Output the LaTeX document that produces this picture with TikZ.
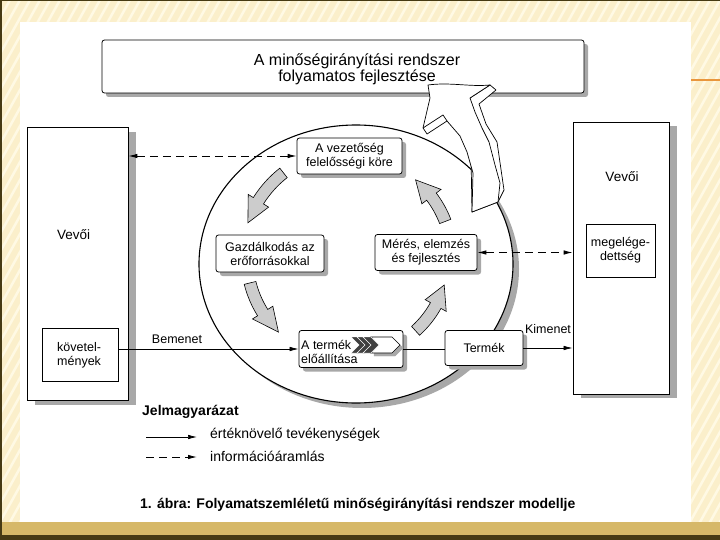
\documentclass[tikz,border=0pt]{standalone}
\usepackage{fontspec}
\setmainfont{Liberation Sans}
\usetikzlibrary{arrows.meta,shadows}
\definecolor{slidebg}{RGB}{251,239,203}
\definecolor{stripe}{RGB}{255,249,228}
\definecolor{goldband}{RGB}{214,184,104}
\definecolor{darkedge}{RGB}{70,58,20}
\definecolor{shd}{RGB}{168,168,168}
\definecolor{orangeline}{RGB}{233,150,60}
\newcommand{\cblk}[5]{%
  \filldraw[carrow] ([shift={(#1)}]{#3}:{#2+6}) arc[start angle=#3, end angle=#4, radius=#2+6]
    -- ([shift={(#1)}]{#4}:{#2+12}) -- ([shift={(#1)}]{#5}:{#2}) -- ([shift={(#1)}]{#4}:{#2-12})
    -- ([shift={(#1)}]{#4}:{#2-6}) arc[start angle=#4, end angle=#3, radius=#2-6] -- cycle;}
\begin{document}
\begin{tikzpicture}[x=1pt,y=-1pt,
  box/.style={draw, line width=0.8pt, fill=white, rounded corners=2.5pt, inner sep=0pt, align=center, font=\fontsize{12.5}{14}\selectfont},
  sbox/.style={box, drop shadow={shadow xshift=4pt, shadow yshift=-4pt, fill=shd, opacity=1}},
  plainbox/.style={draw, line width=0.8pt, fill=white, inner sep=0pt, align=center, font=\fontsize{12.5}{14}\selectfont},
  txt/.style={inner sep=0pt, font=\fontsize{12.5}{14}\selectfont},
  flow/.style={line width=0.7pt, -{Latex[length=9pt,width=4.5pt]}},
  info/.style={line width=0.9pt, dash pattern=on 8pt off 5pt, {Latex[length=9pt,width=4.5pt]}-{Latex[length=9pt,width=4.5pt]}},
  carrow/.style={fill=black!20, draw=black, line width=0.6pt},
  bigarrow/.style={fill=white, draw=black, line width=0.7pt, line join=round},
]
\useasboundingbox (0,0) rectangle (720,540);
% slide background
\fill[slidebg] (0,0) rectangle (720,540);
\foreach \i in {-320,-310,...,720} \draw[stripe, line width=2.5pt] (\i,540) -- (\i+300,0);
\fill[goldband] (0,522) rectangle (720,540);
\fill[darkedge] (0,535) rectangle (720,540);
\fill[darkedge] (0,0) rectangle (720,1.5);
\fill[darkedge] (0,0) rectangle (1.5,540);
\draw[orangeline, line width=1.2pt] (688,80) -- (720,80);
% white panel
\fill[white] (20,22) rectangle (691,522);

% circle
\fill[shd] (362,269) ellipse [x radius=157, y radius=139];
\draw[line width=1.1pt, fill=white] (356,264) ellipse [x radius=157, y radius=139];
\coordinate (c) at (350,258);

% top box
\node[sbox, minimum width=482pt, minimum height=53pt] (top) at (343,66.5) {};
\node[txt, font=\fontsize{16}{16}\selectfont, align=center] (toptxt) at (357,69) {A minőségirányítási rendszer\\folyamatos fejlesztése};

% big 3D arrow
\filldraw[bigarrow] (490,85) -- (496,90) -- (479,104) -- (486,124) -- (497,142) -- (504,190) -- (498,202) -- (472,212) -- (470,98) -- cycle;
\filldraw[bigarrow] (472,212) -- (473,173) -- (467,152) -- (460,136) -- (447,121) -- (427,134) -- (423,128) -- (430,98) -- (428,85)
   .. controls (450,82) and (470,87) .. (490,85) -- (470,98) -- (475,112) -- (482,128) -- (489,142) -- (495,165) -- (500,183) -- (498,202) -- cycle;
\draw[line width=0.7pt] (423,128) -- (443,115) -- (447,121);

% customer boxes
\node[plainbox, minimum width=101pt, minimum height=273pt, drop shadow={shadow xshift=8pt, shadow yshift=-5pt, fill=shd, opacity=1}] (lv) at (77.5,263.5) {};
\node[txt, anchor=west, font=\fontsize{13.5}{15}\selectfont] (lvt) at (57,235) {Vevői};
\node[plainbox, minimum width=76pt, minimum height=53pt] (kov) at (80,354.5) {};
\node[txt, anchor=west, align=left] (kovt) at (57,355) {követel-\\mények};

\node[plainbox, minimum width=96pt, minimum height=272pt, drop shadow={shadow xshift=8pt, shadow yshift=-4pt, fill=shd, opacity=1}] (rv) at (621,258) {};
\node[txt, font=\fontsize{13.5}{15}\selectfont] (rvt) at (622,177) {Vevői};
\node[plainbox, minimum width=69pt, minimum height=53pt] (meg) at (620.5,250.5) {megelége-\\dettség};

% process boxes
\node[sbox, minimum width=105pt, minimum height=36pt] (vez) at (349.5,156) {A vezetőség\\felelősségi köre};
\node[sbox, minimum width=108pt, minimum height=37pt] (gaz) at (270,253.5) {Gazdálkodás az\\erőforrásokkal};
\node[sbox, minimum width=102pt, minimum height=36pt] (mer) at (426,252.5) {Mérés, elemzés\\és fejlesztés};
\node[sbox, minimum width=104pt, minimum height=37pt] (term) at (351,349) {};
\node[txt, anchor=west, align=left] (termt) at (301,352) {A termék\\előállítása};
\node[sbox, minimum width=78pt, minimum height=35pt] (termek) at (484,348) {Termék};

% chevron icon
\filldraw[fill=shd, draw=shd] (374,340) -- (395,340) -- (403,348) -- (395,356) -- (374,356) -- cycle;
\filldraw[fill=white, draw=black, line width=0.6pt] (371,337) -- (392,337) -- (400,345) -- (392,353) -- (371,353) -- (378,345) -- cycle;
\foreach \k in {0,1,2}
  \filldraw[fill=black!75, draw=white, line width=0.4pt] (351+6*\k,337) -- (359+6*\k,337) -- (367+6*\k,345) -- (359+6*\k,353) -- (351+6*\k,353) -- (359+6*\k,345) -- cycle;

% cycle arrows
\cblk{c}{108}{232}{212}{199}
\cblk{c}{103}{166}{148}{134}
\cblk{c}{98}{48}{29}{16}
\cblk{c}{102}{339}{323}{310}

% connectors
\draw[info] (lv.east |- vez.west) -- (vez.west);
\draw[info] (mer.east) -- (mer.east -| rv.west);
\draw[flow] (term.west -| kov.east) -- (term.west);
\draw[line width=0.7pt] (term.east) -- (term.east -| termek.west);
\draw[flow] (termek.east) -- (termek.east -| rv.west);
\node[txt] (bem) at (177,339) {Bemenet};
\node[txt] (kim) at (548,329) {Kimenet};

% legend
\node[txt, anchor=west, font=\bfseries\fontsize{14}{15}\selectfont] (jel) at (142,412) {Jelmagyarázat};
\coordinate (l1a) at (146,437); \coordinate (l1b) at (197,437);
\coordinate (l2a) at (146,457); \coordinate (l2b) at (197,457);
\draw[flow] (l1a) -- (l1b);
\draw[line width=0.9pt, dash pattern=on 8pt off 5pt, -{Latex[length=9pt,width=4.5pt]}] (l2a) -- (l2b);
\node[txt, anchor=west, font=\fontsize{14}{15}\selectfont] (leg1) at (210,435) {értéknövelő tevékenységek};
\node[txt, anchor=west, font=\fontsize{14}{15}\selectfont] (leg2) at (210,456) {információáramlás};
\node[txt, anchor=west, font=\bfseries\fontsize{14}{15}\selectfont] (cap) at (140,505) {1. ábra: Folyamatszemléletű minőségirányítási rendszer modellje};
\end{tikzpicture}
\end{document}
